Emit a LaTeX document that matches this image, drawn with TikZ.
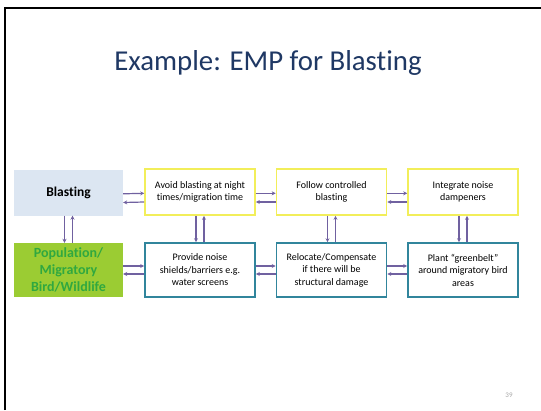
\documentclass[tikz,border=0pt]{standalone}
\usepackage{fontspec}
\setmainfont[Ligatures={NoCommon}]{Carlito}
\usetikzlibrary{arrows.meta}
\definecolor{titleblue}{HTML}{1F3864}
\definecolor{boxblue}{HTML}{DCE6F2}
\definecolor{boxyellow}{HTML}{F2EE5A}
\definecolor{boxteal}{HTML}{31859C}
\definecolor{boxgreen}{HTML}{9BCC33}
\definecolor{txtgreen}{HTML}{30A840}
\definecolor{arrowpurple}{HTML}{7061A0}
\tikzset{
  x=1pt, y=-1pt,
  base/.style={minimum width=110pt, minimum height=46pt, align=center, inner sep=2pt, font=\fontsize{10}{12.5}\selectfont},
  ybox/.style={base, draw=boxyellow, line width=1.6pt, fill=white},
  tbox/.style={base, draw=boxteal, line width=1.6pt, fill=white, minimum height=54pt},
  bluebox/.style={base, fill=boxblue, minimum width=109pt, font=\fontsize{13.5}{16}\selectfont\bfseries},
  greenbox/.style={base, fill=boxgreen, minimum width=109pt, minimum height=54pt, text=txtgreen, font=\fontsize{14}{17}\selectfont\bfseries},
  conn/.style={draw=arrowpurple, line width=1.2pt, -{Stealth[length=4pt,width=4pt]}},
}
\begin{document}
\begin{tikzpicture}
\useasboundingbox (0,0) rectangle (541,410);
\fill[white] (0,0) rectangle (541,410);
% slide frame
\draw[black, line width=2pt] (5,410) -- (5,7.5) -- (541,7.5);
% title
\node[text=titleblue, font=\fontsize{28.8}{33}\selectfont] (title) at (268,63) {Example: EMP for Blasting};
% top row
\node[bluebox] (blast) at (68.5,192.5) {Blasting};
\node[ybox] (avoid) at (200,192) {Avoid blasting at night\\times/migration time};
\node[ybox] (follow) at (331.5,192) {Follow controlled\\blasting};
\node[ybox] (integ) at (463,192) {Integrate noise\\dampeners};
% bottom row
\node[greenbox] (pop) at (68.5,270) {Population/\\Migratory\\Bird/Wildlife};
\node[tbox] (prov) at (200,270) {Provide noise\\shields/barriers e.g.\\water screens};
\node[tbox] (reloc) at (331.5,270) {Relocate/Compensate\\if there will be\\structural damage};
\node[tbox] (plant) at (463,270) {Plant “greenbelt”\\around migratory bird\\areas};
% horizontal arrows, top row (right-pointing above, left-pointing below)
\foreach \a/\b in {blast/avoid, avoid/follow, follow/integ}{
  \draw[conn] ([yshift=-1.3pt]\a.east) -- ([yshift=-1.3pt]\b.west);
  \draw[conn] ([yshift=-10pt]\b.west) -- ([yshift=-10pt]\a.east);
}
% horizontal arrows, bottom row
\foreach \a/\b in {pop/prov, prov/reloc, reloc/plant}{
  \draw[conn] ([yshift=4pt]\a.east) -- ([yshift=4pt]\b.west);
  \draw[conn] ([yshift=-4pt]\b.west) -- ([yshift=-4pt]\a.east);
}
% vertical arrows (down on the left, up on the right)
\foreach \a/\b in {blast/pop, avoid/prov, follow/reloc, integ/plant}{
  \draw[conn] ([xshift=-4pt]\a.south) -- ([xshift=-4pt]\b.north);
  \draw[conn] ([xshift=4pt]\b.north) -- ([xshift=4pt]\a.south);
}
% page number
\node[text=black!35, font=\fontsize{7}{8}\selectfont] (pnum) at (509,395) {39};
\end{tikzpicture}
\end{document}
